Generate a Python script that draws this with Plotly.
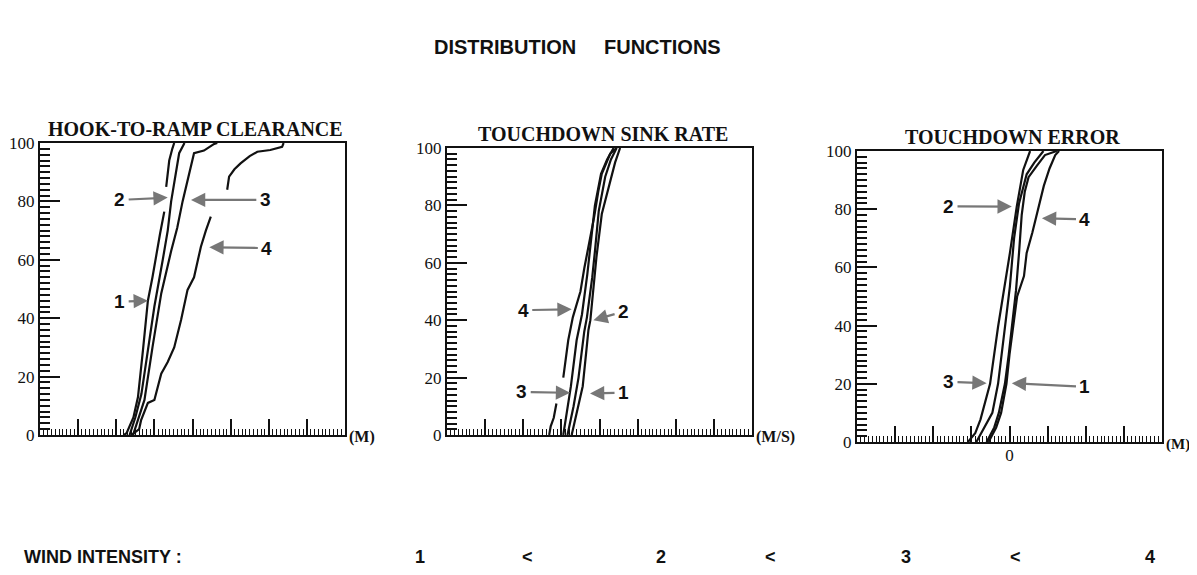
import plotly.graph_objects as go

# ---------------- data ----------------
# Panel 1: HOOK-TO-RAMP CLEARANCE (x in arbitrary axis units 0..8)
hr_x1 = [2.20, 2.27, 2.45, 2.57, 2.70, 2.83, 2.95, 3.05, 3.15, 3.26, None, 3.31, 3.39, 3.47, 3.52]
hr_y1 = [0, 0.6, 6, 13, 29, 46, 54, 62, 69, 76.5, None, 85, 94, 98, 100]
hr_x2 = [2.35, 2.50, 2.66, 2.85, 3.00, 3.22, 3.35, 3.44, 3.57, 3.65, 3.79]
hr_y2 = [0, 6, 14, 30, 44, 60, 70, 80, 89.6, 96.5, 100]
hr_x3 = [2.44, 2.60, 2.74, 2.95, 3.18, 3.44, 3.60, 3.74, 3.91, 4.04, 4.30, 4.57, 4.65]
hr_y3 = [0, 6, 12, 30, 48.5, 63, 71, 80, 89.6, 96.5, 97.4, 99.7, 100]
hr_x4 = [2.40, 2.60, 2.65, 2.83, 3.00, 3.18, 3.35, 3.52, 3.70, 3.87, 4.04, 4.22, 4.35, 4.48, None,
         4.91, 4.96, 5.10, 5.26, 5.50, 5.70, 6.04, 6.35, 6.39]
hr_y4 = [0, 2, 5, 11, 12, 21, 25, 30, 39.4, 49.7, 54, 64.5, 70, 74.8, None,
         84, 88.5, 91, 93, 95.5, 97, 97.6, 98.7, 100]

# Panel 2: TOUCHDOWN SINK RATE (x 0..8)
sr_x1 = [3.27, 3.45, 3.56, 3.66, 3.71, 3.76, 3.84, 3.92, 4.06, 4.23, 4.41, 4.54]
sr_y1 = [0, 10, 17, 30, 36.6, 40, 50, 62, 77, 86, 95, 100]
sr_x2 = [3.16, 3.32, 3.45, 3.60, 3.67, 3.81, 3.88, 3.98, 4.15, 4.30, 4.45]
sr_y2 = [0, 10, 20, 36, 41, 55, 64, 78, 90, 96, 100]
sr_x3 = [3.05, 3.14, 3.25, 3.40, 3.54, 3.68, 3.76, 3.88, 4.04, 4.20, 4.37]
sr_y3 = [0, 7.5, 17, 33, 42, 56, 65, 80, 91, 96, 100]
sr_x4 = [2.68, 2.72, 2.80, 2.87, None, 3.05, 3.18, 3.30, 3.50, 3.60, 3.73, 3.86, 3.97, 4.06, 4.28, 4.45]
sr_y4 = [0, 3, 6, 11, None, 20, 33, 41, 50, 58, 67, 76, 85, 91, 98, 100]

# Panel 3: TOUCHDOWN ERROR (x -4..4)
te_x1 = [-0.60, -0.40, -0.28, -0.12, -0.02, 0.06, 0.17, 0.25, 0.32, 0.40, 0.50, 0.72, 0.93, 1.24]
te_y1 = [0, 5, 10, 20, 30, 40, 52, 65, 78, 86, 91, 95, 98.6, 100]
te_x2 = [-0.87, -0.65, -0.45, -0.30, -0.12, 0.01, 0.12, 0.25, 0.45, 0.65, 0.89]
te_y2 = [0, 5, 10, 20, 39.6, 53.4, 70, 82, 92, 96, 100]
te_x3 = [-1.09, -0.90, -0.76, -0.51, -0.30, -0.12, 0.01, 0.19, 0.36, 0.54]
te_y3 = [0, 3, 7.8, 20, 39.6, 53.4, 64.9, 80.9, 93.5, 100]
te_x4 = [-0.55, -0.35, -0.22, -0.08, 0.00, 0.10, 0.20, 0.38, 0.45, 0.60, 0.76, 0.90, 1.05, 1.20, 1.30]
te_y4 = [0, 5, 10, 20, 30, 40, 50, 57, 65, 72, 80, 88, 94, 98.6, 100]

panel_titles = ["HOOK-TO-RAMP CLEARANCE", "TOUCHDOWN SINK RATE", "TOUCHDOWN ERROR"]
unit_labels = ["(M)", "(M/S)", "(M)"]
y_ticks = [0, 20, 40, 60, 80, 100]
err_ticks = [-4, -3, -2, -1, 0, 1, 2, 3, 4]
err_ticktext = ["", "", "", "", "0", "", "", "", ""]

# arrow labels: (label, text_x, text_y, head_x, head_y)
hr_arrows = [("2", 2.09, 80.5, 3.35, 81.3), ("3", 5.91, 80.5, 3.96, 80.5),
             ("4", 5.95, 64.0, 4.44, 64.3), ("1", 2.09, 45.7, 2.83, 46.0)]
sr_arrows = [("4", 2.00, 43.5, 3.27, 43.8), ("2", 4.63, 43.0, 3.84, 40.0),
             ("3", 1.96, 15.0, 3.23, 14.7), ("1", 4.63, 14.7, 3.75, 14.5)]
te_arrows = [("2", -1.60, 81.0, 0.06, 80.9), ("4", 1.98, 76.5, 0.85, 76.9),
             ("3", -1.60, 20.7, -0.60, 20.2), ("1", 1.98, 19.0, 0.06, 20.2)]

wind_labels = ["WIND INTENSITY :", "1", "<", "2", "<", "3", "<", "4"]
wind_xpos = [22, 420, 527, 661, 770, 906, 1015, 1150]

# ---------------- figure ----------------
W, H = 1197, 575
OFF = 8  # page body margin of the rendered html
fig = go.Figure()

panels = [
    dict(curves=[(hr_x1, hr_y1), (hr_x2, hr_y2), (hr_x3, hr_y3), (hr_x4, hr_y4)],
         px=(40, 345), py=(143, 435), xr=[0, 8], arrows=hr_arrows),
    dict(curves=[(sr_x1, sr_y1), (sr_x2, sr_y2), (sr_x3, sr_y3), (sr_x4, sr_y4)],
         px=(447, 752), py=(148, 435), xr=[0, 8], arrows=sr_arrows),
    dict(curves=[(te_x1, te_y1), (te_x2, te_y2), (te_x3, te_y3), (te_x4, te_y4)],
         px=(857, 1162), py=(151, 442), xr=[-4, 4], arrows=te_arrows),
]


def PX(v):
    return (v - OFF) / W


def PY(v):
    return 1 - (v - OFF) / H


serif = "Liberation Serif, Times New Roman, serif"
sans = "Liberation Sans, Arial, sans-serif"
annotations = []

for i, p in enumerate(panels):
    n = "" if i == 0 else str(i + 1)
    xa, ya = "x" + n, "y" + n
    for cx, cy in p["curves"]:
        fig.add_trace(go.Scatter(x=cx, y=cy, mode="lines", xaxis=xa, yaxis=ya,
                                 line=dict(color="#111", width=2.2),
                                 connectgaps=False, showlegend=False, hoverinfo="skip"))
    xdom = [PX(p["px"][0]), PX(p["px"][1])]
    ydom = [PY(p["py"][1]), PY(p["py"][0])]
    xaxis = dict(domain=xdom, range=p["xr"], anchor=ya, showgrid=False, zeroline=False,
                 automargin=False,
                 showline=True, linecolor="#111", linewidth=2, mirror=True,
                 ticks="inside", ticklen=16, tickwidth=2, tickcolor="#111",
                 minor=dict(dtick=0.1, ticks="inside", ticklen=6, tickwidth=1.3, tickcolor="#111"),
                 ticklabelstandoff=-3,
                 tickfont=dict(family=serif, size=17, color="#111"))
    if i == 2:
        xaxis.update(tickmode="array", tickvals=err_ticks, ticktext=err_ticktext, showticklabels=True)
    else:
        xaxis.update(dtick=1, tick0=0, showticklabels=False)
    yaxis = dict(domain=ydom, range=[0, 100], anchor=xa, showgrid=False, zeroline=False,
                 automargin=False,
                 showline=True, linecolor="#111", linewidth=2, mirror=True,
                 tickmode="array", tickvals=y_ticks,
                 ticks="inside", ticklen=20, tickwidth=2, tickcolor="#111",
                 minor=dict(dtick=2, ticks="inside", ticklen=10, tickwidth=1.5, tickcolor="#111"),
                 tickfont=dict(family=serif, size=17, color="#111"))
    fig.update_layout(**{"xaxis" + n: xaxis, "yaxis" + n: yaxis})

    # panel title
    annotations.append(dict(text="<b>" + panel_titles[i] + "</b>", xref="paper", yref="paper",
                            x=PX((p["px"][0] + p["px"][1]) / 2 + 3), y=PY(p["py"][0] - 1),
                            xanchor="center", yanchor="bottom", showarrow=False,
                            font=dict(family=serif, size=20, color="#111")))
    # unit label
    annotations.append(dict(text="<b>" + unit_labels[i] + "</b>", xref="paper", yref="paper",
                            x=PX(p["px"][1] + 2), y=PY(p["py"][1] + 2),
                            xanchor="left", yanchor="middle", showarrow=False,
                            font=dict(family=serif, size=15 if i == 2 else 16, color="#111")))
    # arrows
    for lab, tx, ty, hx, hy in p["arrows"]:
        annotations.append(dict(text="<b>" + lab + "</b>", x=hx, y=hy, ax=tx, ay=ty,
                                xref=xa, yref=ya, axref=xa, ayref=ya,
                                showarrow=True, arrowhead=2, arrowsize=1.3, arrowwidth=2.2,
                                arrowcolor="#777", standoff=0, startstandoff=2,
                                font=dict(family=sans, size=19, color="#111")))

# main title
annotations.append(dict(text="<b>DISTRIBUTION&nbsp;&nbsp;&nbsp;&nbsp;&nbsp;FUNCTIONS</b>",
                        xref="paper", yref="paper", x=PX(577), y=PY(47),
                        xanchor="center", yanchor="middle", showarrow=False,
                        font=dict(family=sans, size=20, color="#111")))
# wind intensity row
for j, (lab, xp) in enumerate(zip(wind_labels, wind_xpos)):
    annotations.append(dict(text="<b>" + lab + "</b>", xref="paper", yref="paper",
                            x=PX(xp), y=PY(557),
                            xanchor="left" if j == 0 else "center", yanchor="middle",
                            showarrow=False, font=dict(family=sans, size=18, color="#111")))

fig.update_layout(width=W, height=H, autosize=False,
                  margin=dict(l=0, r=0, t=0, b=0, autoexpand=False),
                  paper_bgcolor="white", plot_bgcolor="white",
                  annotations=annotations)

fig.write_html("out.html")
